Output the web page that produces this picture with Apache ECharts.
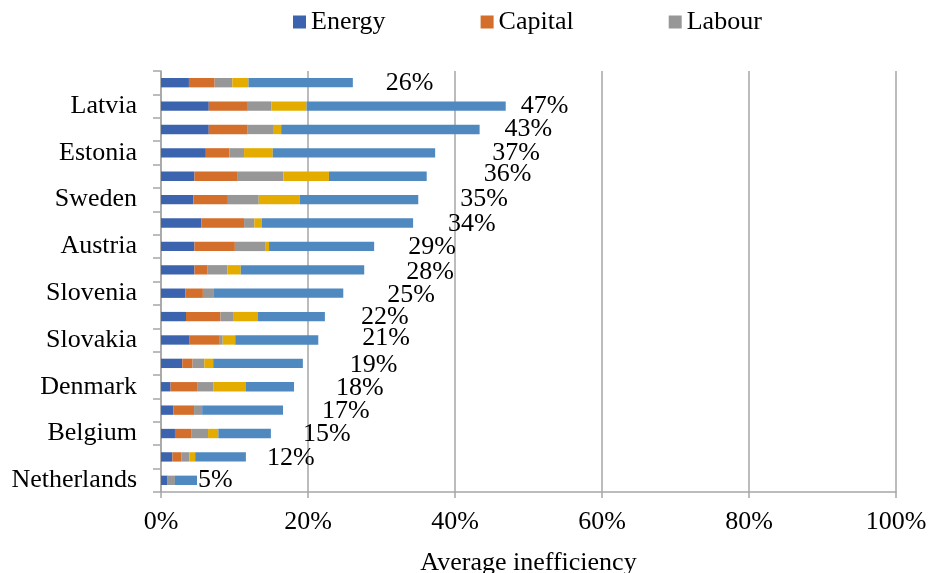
<!DOCTYPE html>
<html>
<head>
<meta charset="utf-8">
<script src="https://cdn.jsdelivr.net/npm/echarts@6/dist/echarts.min.js"></script>
<style>
  html, body { margin: 0; padding: 0; background: #fff; }
  #chart { width: 929px; height: 573px; }
</style>
</head>
<body>
<div id="chart"></div>
<script>
// Countries, listed bottom to top (only every other name is printed on the axis)
const countries = [
  'Netherlands', 'Germany', 'Belgium', 'France', 'Denmark', 'Portugal',
  'Slovakia', 'Finland', 'Slovenia', 'Hungary', 'Austria', 'Czechia',
  'Sweden', 'Poland', 'Estonia', 'Lithuania', 'Latvia', 'EU average'
];

// Inefficiency contributions, in percent
const energy    = [0.9, 1.55, 1.9, 1.7, 1.3, 2.9, 3.9, 3.4, 3.3, 4.55, 4.55, 5.5, 4.4, 4.55, 6.1, 6.5, 6.5, 3.8];
const capital   = [0,   1.2,  2.2, 2.8, 3.7, 1.4, 4.1, 4.7, 2.4, 1.8,  5.5,  5.8, 4.7, 5.9,  3.2, 5.3, 5.2, 3.5];
const labour    = [1.0, 1.1,  2.3, 1.1, 2.1, 1.6, 0.4, 1.8, 1.5, 2.7,  4.2,  1.4, 4.2, 6.2,  2.0, 3.55, 3.3, 2.4];
const materials = [0,   0.8,  1.4, 0,   4.4, 1.2, 1.7, 3.3, 0,   1.8,  0.45, 1.0, 5.6, 6.2,  3.9, 1.0, 4.8, 2.2];
const other     = [3.0, 6.9,  7.15, 11.0, 6.6, 12.2, 11.3, 9.1, 17.6, 16.8, 14.3, 20.6, 16.1, 13.3, 22.1, 27.0, 27.1, 14.2];

const xTicks = [0, 20, 40, 60, 80, 100];

// Layout: hand-placed nudges for the total labels, [dx, dy] in px
const totalLabelNudge = [
  [1, 0], [21, 1], [32, 1], [39, 1], [42, 1], [47, 2], [44, -2], [36, 1], [44, 2],
  [42, 2], [34, 1], [35, 1], [42, 0], [57, -2], [57, 0], [25, 0], [15, 0], [33, 0]
];

const totals = countries.map((_, i) =>
  energy[i] + capital[i] + labour[i] + materials[i] + other[i]);

const FONT = '"Liberation Serif", "Times New Roman", serif';
const GRID_GRAY = '#a6a6a6';

const colors = ['#3c63ae', '#d46e2b', '#979797', '#e5ac00', '#4f89c0'];

function seg(name, data, color) {
  return {
    name: name,
    type: 'bar',
    stack: 'total',
    barWidth: '40%',
    data: data,
    itemStyle: { color: color },
    emphasis: { disabled: true }
  };
}

const series = [
  seg('Energy', energy, colors[0]),
  seg('Capital', capital, colors[1]),
  seg('Labour', labour, colors[2]),
  seg('Materials', materials, colors[3]),
  seg('Other', other, colors[4])
];

// Totals are printed next to the end of each stacked bar
series[4].data = other.map((v, i) => ({
  value: v,
  label: {
    show: true,
    position: 'right',
    distance: 0,
    offset: totalLabelNudge[i],
    formatter: Math.round(totals[i]) + '%',
    fontFamily: FONT,
    fontSize: 26,
    color: '#000'
  }
}));

const chart = echarts.init(document.getElementById('chart'), null, { renderer: 'canvas' });

chart.setOption({
  animation: false,
  textStyle: { fontFamily: FONT },
  legend: {
    data: ['Energy', 'Capital', 'Labour'],
    left: 288,
    top: 4,
    icon: 'rect',
    itemWidth: 13,
    itemHeight: 13,
    itemGap: 95,
    textStyle: { fontFamily: FONT, fontSize: 26, color: '#000' }
  },
  grid: {
    left: 161, right: 33, top: 71, bottom: 81,
    containLabel: false,
    outerBoundsMode: 'none'
  },
  xAxis: {
    type: 'value',
    min: xTicks[0],
    max: xTicks[xTicks.length - 1],
    interval: xTicks[1] - xTicks[0],
    name: 'Average inefficiency',
    nameLocation: 'middle',
    nameGap: 58,
    nameTextStyle: { fontFamily: FONT, fontSize: 26, color: '#000' },
    axisLine: { show: true, lineStyle: { color: GRID_GRAY, width: 1.5 } },
    axisTick: { show: true, length: 6, lineStyle: { color: GRID_GRAY, width: 1.5 } },
    axisLabel: {
      formatter: '{value}%',
      fontFamily: FONT, fontSize: 26, color: '#000', margin: 17
    },
    splitLine: { show: true, lineStyle: { color: GRID_GRAY, width: 1.5 } }
  },
  yAxis: {
    type: 'category',
    data: countries,
    axisLine: { show: true, lineStyle: { color: GRID_GRAY, width: 1.5 } },
    axisTick: { show: true, length: 8, interval: 0, lineStyle: { color: GRID_GRAY, width: 1.5 } },
    axisLabel: {
      interval: 1,
      fontFamily: FONT, fontSize: 26, color: '#000', margin: 24
    },
    splitLine: { show: false }
  },
  series: series
});
</script>
</body>
</html>
